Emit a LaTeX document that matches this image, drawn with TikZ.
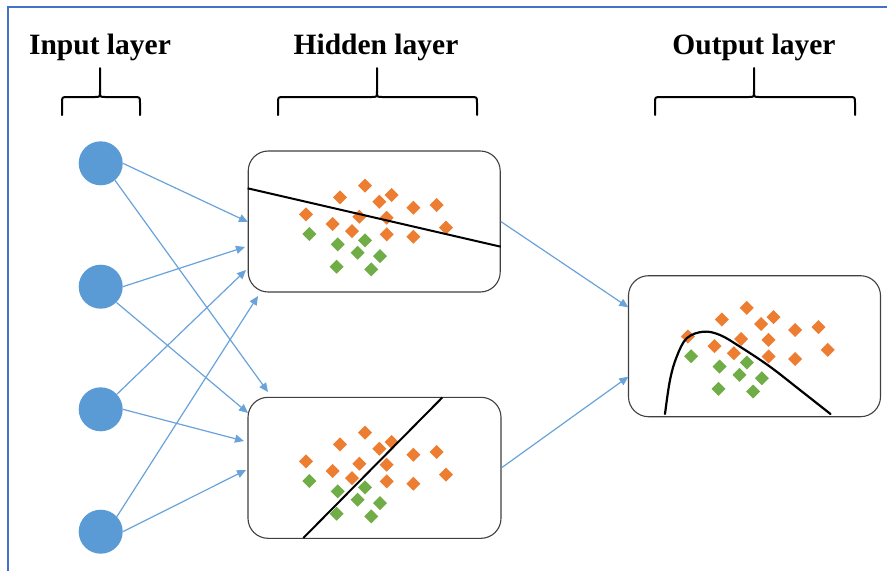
\documentclass[tikz,border=0pt]{standalone}
\usepackage{fontspec}
\setmainfont{Liberation Serif}
\usetikzlibrary{arrows.meta}

\definecolor{frameblue}{HTML}{4472C4}
\definecolor{unitblue}{HTML}{5B9BD5}
\definecolor{linkblue}{HTML}{6AA3DA}
\definecolor{dotorange}{HTML}{ED7D31}
\definecolor{dotgreen}{HTML}{70AD47}
\definecolor{boxgray}{HTML}{404040}

% one scatter of points, given relative to the top-left corner of its panel
\newcommand\scatterpoints{%
  \foreach \px/\py in {117/34.7, 92/46.3, 143.7/44, 131.3/50.7, 165.3/56.7,
      188.7/54, 58/63.3, 111.3/65.7, 138.7/66.7, 84.7/73, 104/80,
      138.7/83.3, 165.3/85.7, 198/76.7}
    {\fill[dotorange] (\px-7,\py) -- (\px,\py-7) -- (\px+7,\py) -- (\px,\py+7) -- cycle;}
  \foreach \px/\py in {61.3/83, 89.7/93.3, 117/89.3, 109.7/101.7, 132/105,
      88.7/115.7, 123.3/118.3}
    {\fill[dotgreen] (\px-7,\py) -- (\px,\py-7) -- (\px+7,\py) -- (\px,\py+7) -- cycle;}
}

% curly bracket over a layer: left x, middle x, right x
\newcommand\layerbrace[3]{%
  \draw[bracket] (#1,115) -- (#1,103) .. controls (#1,97) .. (#1+6,97)
    -- (#2-5,97) .. controls (#2,97) .. (#2,91) -- (#2,68);
  \draw[bracket] (#3,115) -- (#3,103) .. controls (#3,97) .. (#3-6,97)
    -- (#2+5,97) .. controls (#2,97) .. (#2,91);
}

\begin{document}
\begin{tikzpicture}[x=1pt,y=-1pt,
  unit/.style={circle,fill=unitblue,minimum size=44pt,inner sep=0pt},
  panel/.style={draw=boxgray,line width=1.1pt,rounded corners=20pt,fill=white,
    minimum width=#1,inner sep=0pt},
  link/.style={draw=linkblue,line width=1.2pt,-{Triangle[length=9pt,width=8pt]}},
  bracket/.style={line width=2pt,line cap=round,line join=round},
  title/.style={font=\fontsize{29.5}{33}\selectfont\bfseries,anchor=base,inner sep=0pt},
  divider/.style={line width=2pt,black}]

\useasboundingbox (0,0) rectangle (887,571);
\fill[white] (0,0) rectangle (887,571);

% page frame
\draw[frameblue,line width=2pt] (8,571) -- (8,7) -- (887,7);

% layer titles and brackets
\node[title] (tin)  at (100,54) {Input layer};
\node[title] (thid) at (376,54) {Hidden layer};
\node[title] (tout) at (754,54) {Output layer};
\layerbrace{62}{100}{140}
\layerbrace{278}{377}{477}
\layerbrace{655}{754}{855}

% input units
\node[unit] (i1) at (100.7,163.3) {};
\node[unit] (i2) at (100.7,286.7) {};
\node[unit] (i3) at (100.7,409.3) {};
\node[unit] (i4) at (100.7,531.7) {};

% hidden and output panels
\node[panel=252pt,minimum height=141pt] (h1) at (374.2,221.5) {};
\node[panel=253pt,minimum height=141pt] (h2) at (374.5,467.8) {};
\node[panel=252pt,minimum height=141pt] (o)  at (754.5,346.2) {};

% points and separating boundaries
\begin{scope}[shift={(248,151)}]\scatterpoints\end{scope}
\begin{scope}[shift={(248,398)}]\scatterpoints\end{scope}
\begin{scope}[shift={(629.8,273.2)}]\scatterpoints\end{scope}

\draw[divider] (h1.west |- 0,188.3) -- (h1.east |- 0,246.7);
\draw[divider] (303.3,538) -- (442.3,397.5);
\draw[divider,line width=2.2pt,line cap=round] plot[smooth,tension=0.6] coordinates
  {(665,414) (670,380) (676.7,356.7) (686.7,338.3) (703.3,331.7) (720,335)
   (740,346.7) (770,366.7) (800,390) (830.5,414)};

% arrow targets
\coordinate (a11) at (248,222);
\coordinate (a21) at (245,247);
\coordinate (a31) at (246,270);
\coordinate (a41) at (258,296);
\coordinate (a12) at (268,392);
\coordinate (a22) at (248,413);
\coordinate (a32) at (244,441);
\coordinate (a42) at (246,470);
\coordinate (ao1) at (628.3,307.3);
\coordinate (ao2) at (628.3,376.7);

% connections input -> hidden
\draw[link] (i1.east) -- (a11);
\draw[link] (i1.-50) -- (a12);
\draw[link] (i2.east) -- (a21);
\draw[link] (i2.-45) -- (a22);
\draw[link] (i3.43) -- (a31);
\draw[link] (i3.east) -- (a32);
\draw[link] (i4.43) -- (a41);
\draw[link] (i4.east) -- (a42);

% connections hidden -> output
\draw[link] (h1.east) -- (ao1);
\draw[link] (h2.east) -- (ao2);

\end{tikzpicture}
\end{document}
